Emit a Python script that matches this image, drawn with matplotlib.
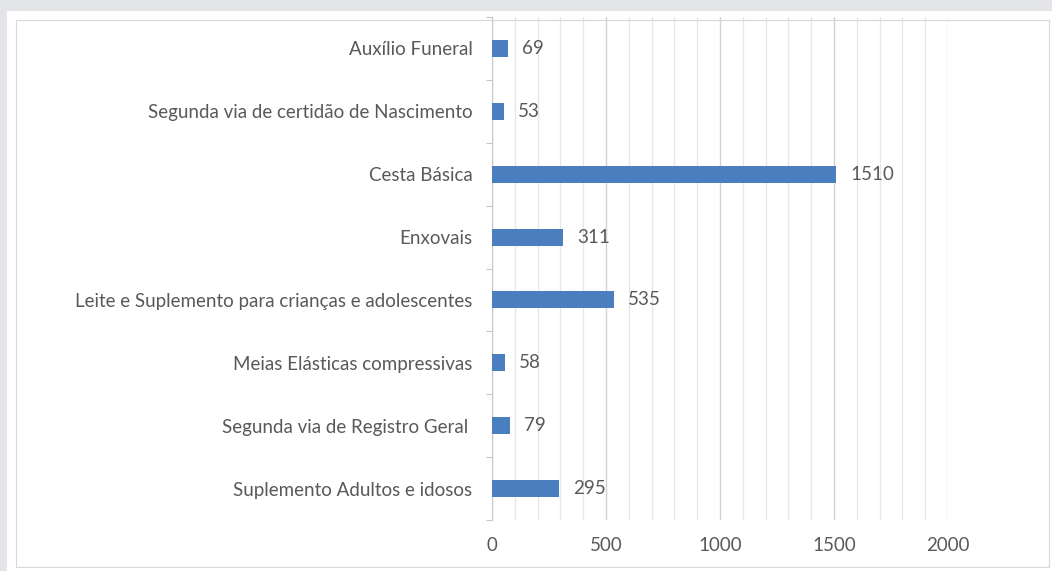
import matplotlib
matplotlib.use("Agg")
import matplotlib.pyplot as plt
from matplotlib.patches import Rectangle
import numpy as np

categories = [
    "Auxílio Funeral",
    "Segunda via de certidão de Nascimento",
    "Cesta Básica",
    "Enxovais",
    "Leite e Suplemento para crianças e adolescentes",
    "Meias Elásticas compressivas",
    "Segunda via de Registro Geral ",
    "Suplemento Adultos e idosos",
]
values = [69, 53, 1510, 311, 535, 58, 79, 295]
xticks = [0, 500, 1000, 1500, 2000]

plt.rcParams['font.family'] = ['Lato', 'DejaVu Sans']
FS = 13.5
W, H = 1052, 571
fig = plt.figure(figsize=(W/100, H/100), dpi=100)
fig.patch.set_facecolor('#e4e5e8')

# white panel with thin border
fig.add_artist(Rectangle((7/W, 1 - 571/H), 1045/W, 560/H, transform=fig.transFigure,
                         facecolor='white', edgecolor='none', zorder=0))
fig.add_artist(Rectangle((16/W, 1 - 567/H), 1033/W, 547/H, transform=fig.transFigure,
                         facecolor='none', edgecolor='#d8d8d8', lw=0.8, zorder=1))

ax = fig.add_axes([492/W, 1 - 520/H, (948 - 492)/W, (520 - 17)/H])
ax.set_facecolor('none')
n = len(categories)
y = np.arange(n)[::-1]
bar_color = '#4a7ebf'
ax.barh(y, values, height=0.27, color=bar_color, zorder=3)
for yi, v in zip(y, values):
    ax.text(v + 62, yi, str(v), va='center', ha='left', fontsize=FS, color='#595959')

ax.set_xlim(0, 2000)
ax.set_ylim(-0.5, n - 0.5)
ax.set_xticks(xticks)
ax.set_xticks(np.arange(0, 2001, 100), minor=True)
ax.grid(axis='x', which='minor', color='#e6e6e6', lw=0.9, zorder=0)
ax.grid(axis='x', which='major', color='#d2d2d2', lw=1.0, zorder=0)
ax.tick_params(axis='x', which='both', length=0, labelsize=FS, labelcolor='#595959', pad=12)

ax.set_yticks(y)
ax.set_yticklabels(categories, fontsize=FS, color='#595959')
ax.set_yticks(np.arange(-0.5, n, 1.0), minor=True)
ax.tick_params(axis='y', which='major', length=0, pad=14)
ax.tick_params(axis='y', which='minor', length=4, color='#c8c8c8', width=0.8)

for s in ['top', 'right', 'bottom']:
    ax.spines[s].set_visible(False)
ax.spines['left'].set_color('#c8c8c8')
ax.spines['left'].set_linewidth(0.8)

fig.savefig('out.png', dpi=100, facecolor=fig.get_facecolor())
